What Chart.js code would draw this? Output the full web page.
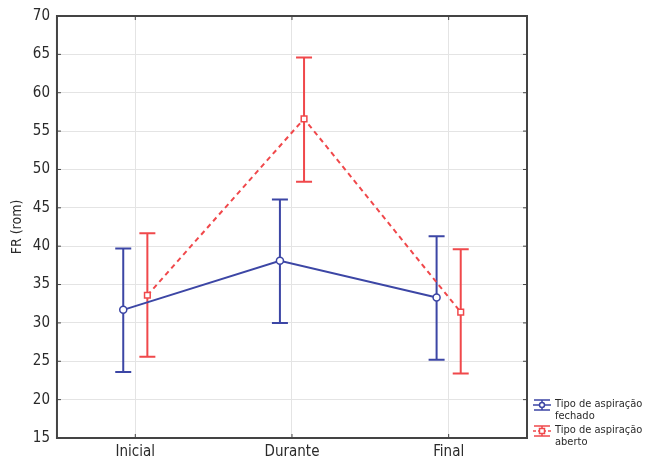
<!DOCTYPE html>
<html>
<head>
<meta charset="utf-8">
<script src="https://cdn.jsdelivr.net/npm/chart.js@4/dist/chart.umd.min.js"></script>
<style>
  html, body { margin: 0; padding: 0; background: #fff; }
  #wrap { width: 649px; height: 462px; }
</style>
</head>
<body>
<div id="wrap"><canvas id="frChart" width="649" height="462"></canvas></div>
<script>
const categories = ['Inicial', 'Durante', 'Final'];
const yTicks = [15, 20, 25, 30, 35, 40, 45, 50, 55, 60, 65, 70];

// Tipo de aspiração fechado
const fechadoMean = [31.7, 38.1, 33.3];
const fechadoLow = [23.6, 30.0, 25.2];
const fechadoHigh = [39.7, 46.1, 41.3];

// Tipo de aspiração aberto
const abertoMean = [33.6, 56.6, 31.4];
const abertoLow = [25.6, 48.4, 23.4];
const abertoHigh = [41.7, 64.6, 39.6];

const seriesNames = [['Tipo de aspiração', 'fechado'], ['Tipo de aspiração', 'aberto']];

const BLUE = '#3c46a5';
const RED = '#f0484b';
const FONT = "'DejaVu Sans Condensed', 'Liberation Sans', sans-serif";
const shift = 0.077;

const errorBars = {
    id: 'errorBars',
    beforeDatasetsDraw(chart) {
        const ctx = chart.ctx;
        const y = chart.scales.y;
        const sets = [[fechadoLow, fechadoHigh, BLUE], [abertoLow, abertoHigh, RED]];
        sets.forEach((s, di) => {
            const meta = chart.getDatasetMeta(di);
            ctx.save();
            ctx.strokeStyle = s[2];
            ctx.lineWidth = 2;
            meta.data.forEach((pt, i) => {
                const x = pt.x;
                const yl = y.getPixelForValue(s[0][i]);
                const yh = y.getPixelForValue(s[1][i]);
                ctx.beginPath();
                ctx.moveTo(x, yl); ctx.lineTo(x, yh);
                ctx.moveTo(x - 8, yl); ctx.lineTo(x + 8, yl);
                ctx.moveTo(x - 8, yh); ctx.lineTo(x + 8, yh);
                ctx.stroke();
            });
            ctx.restore();
        });
    },
    afterDraw(chart) {
        const ctx = chart.ctx;
        const a = chart.chartArea;
        ctx.save();
        ctx.strokeStyle = '#444';
        ctx.lineWidth = 2;
        ctx.strokeRect(a.left, a.top, a.right - a.left, a.bottom - a.top);

        // small inward tick marks
        ctx.lineWidth = 1;
        ctx.beginPath();
        chart.scales.y.ticks.forEach(t => {
            const py = chart.scales.y.getPixelForValue(t.value);
            ctx.moveTo(a.left, py); ctx.lineTo(a.left + 4, py);
            ctx.moveTo(a.right, py); ctx.lineTo(a.right - 4, py);
        });
        chart.scales.x.ticks.forEach(t => {
            const px = chart.scales.x.getPixelForValue(t.value);
            ctx.moveTo(px, a.bottom); ctx.lineTo(px, a.bottom - 4);
            ctx.moveTo(px, a.top); ctx.lineTo(px, a.top + 4);
        });
        ctx.stroke();

        // legend
        const colors = [BLUE, RED];
        const tops = [405, 431];
        ctx.font = '11px ' + FONT;
        ctx.textBaseline = 'middle';
        seriesNames.forEach((lines, i) => {
            const cy = tops[i];
            const cx = 542;
            ctx.strokeStyle = colors[i];
            ctx.lineWidth = 1.5;
            if (i === 1) ctx.setLineDash([3, 2]);
            ctx.beginPath();
            ctx.moveTo(533, cy); ctx.lineTo(551, cy);
            ctx.stroke();
            ctx.setLineDash([]);
            ctx.beginPath();
            ctx.moveTo(cx, cy - 5); ctx.lineTo(cx, cy + 5);
            ctx.moveTo(cx - 8, cy - 5); ctx.lineTo(cx + 8, cy - 5);
            ctx.moveTo(cx - 8, cy + 5); ctx.lineTo(cx + 8, cy + 5);
            ctx.stroke();
            ctx.fillStyle = '#fff';
            ctx.beginPath();
            if (i === 0) ctx.arc(cx, cy, 2.5, 0, Math.PI * 2);
            else ctx.rect(cx - 2.5, cy - 2.5, 5, 5);
            ctx.fill(); ctx.stroke();
            ctx.fillStyle = '#2a2a2a';
            lines.forEach((t, j) => ctx.fillText(t, 555, cy - 1 + j * 12));
        });
        ctx.restore();
    }
};

new Chart(document.getElementById('frChart'), {
    type: 'line',
    data: {
        datasets: [{
            label: seriesNames[0].join(' '),
            data: fechadoMean.map((v, i) => ({x: i - shift, y: v})),
            borderColor: BLUE,
            backgroundColor: '#fff',
            borderWidth: 2,
            pointStyle: 'circle',
            pointRadius: 3.5,
            pointBorderWidth: 1.5,
            tension: 0
        }, {
            label: seriesNames[1].join(' '),
            data: abertoMean.map((v, i) => ({x: i + shift, y: v})),
            borderColor: RED,
            backgroundColor: '#fff',
            borderWidth: 2,
            borderDash: [5, 4],
            pointStyle: 'rect',
            pointRadius: 4,
            pointBorderWidth: 1.5,
            tension: 0
        }]
    },
    options: {
        responsive: false,
        animation: false,
        layout: {padding: {top: 8, right: 122, bottom: 0, left: 9}},
        plugins: {
            legend: {display: false},
            tooltip: {enabled: false}
        },
        scales: {
            x: {
                type: 'linear',
                min: -0.5,
                max: 2.5,
                afterBuildTicks: (axis) => { axis.ticks = categories.map((c, i) => ({value: i})); },
                afterFit: (axis) => { axis.height = 24; },
                grid: {color: '#e4e4e4', borderDash: [1, 2], drawTicks: false},
                border: {display: false},
                ticks: {
                    callback: (v) => categories[v],
                    color: '#2a2a2a',
                    padding: 5,
                    maxRotation: 0,
                    font: {family: FONT, size: 15}
                }
            },
            y: {
                min: 15,
                max: 70,
                afterBuildTicks: (axis) => { axis.ticks = yTicks.map(v => ({value: v})); },
                grid: {color: '#e4e4e4', borderDash: [1, 2], drawTicks: false},
                border: {display: false},
                ticks: {
                    color: '#2a2a2a',
                    padding: 7,
                    font: {family: FONT, size: 15}
                },
                title: {
                    display: true,
                    text: 'FR (rom)',
                    color: '#2a2a2a',
                    padding: {top: 0, bottom: 0},
                    font: {family: FONT, size: 14}
                }
            }
        }
    },
    plugins: [errorBars]
});
</script>
</body>
</html>
